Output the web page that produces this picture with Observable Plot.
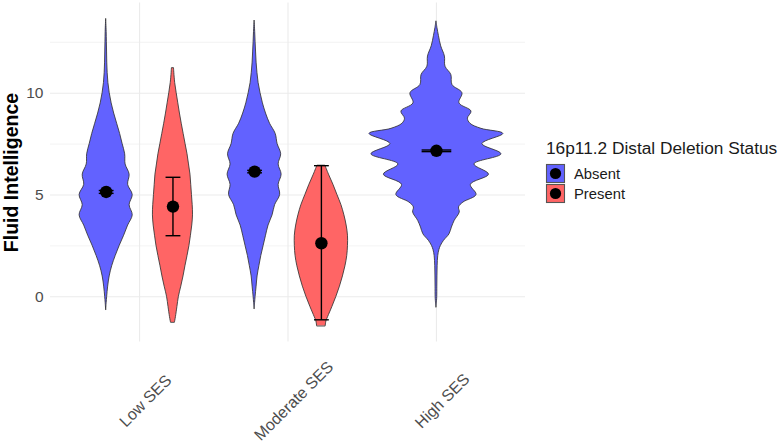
<!DOCTYPE html>
<html><head><meta charset="utf-8">
<script src="https://cdn.jsdelivr.net/npm/d3@7"></script>
<script src="https://cdn.jsdelivr.net/npm/@observablehq/plot@0.6"></script>
<style>
body{margin:0;background:#fff;}
#wrap{position:relative;width:780px;height:446px;font-family:"Liberation Sans",Arial,Helvetica,sans-serif;}
#legend{position:absolute;left:0;top:0;pointer-events:none;}
</style></head><body><div id="wrap"></div>
<script>
// ---- data ----
const categories = ["Low SES", "Moderate SES", "High SES"];
const groups = ["Absent", "Present"];
const groupColors = ["#6262ff", "#ff6565"];
const legendTitle = "16p11.2 Distal Deletion Status";
const yTitle = "Fluid Intelligence";
const yTicks = [0, 5, 10];
const yMinorTicks = [2.5, 7.5, 12.5];

// violin profiles: y values and half-widths (in category units)
const lowAbsentY = [-0.65,-0.3,0,0.5,1,1.5,2,2.5,3,3.5,4,4.5,5,5.5,6,6.5,7,7.5,8,8.5,9,9.5,10,10.5,11,11.5,12,12.5,13,13.65];
const lowAbsentW = [0,.0034,.0067,.0135,.0236,.0404,.064,.091,.121,.148,.179,.158,.179,.148,.158,.131,.128,.111,.094,.074,.054,.037,.024,.015,.010,.0074,.0061,.0047,.0034,0];
const lowPresentY = [-1.26,-1,-0.5,0,0.5,1,1.5,2,2.5,3,3.5,4,4.5,5,5.5,6,6.5,7,7.5,8,8.5,9,9.5,10,10.5,11,11.23];
const lowPresentW = [.0135,.020,.030,.040,.056,.071,.084,.098,.111,.121,.130,.135,.133,.128,.123,.118,.108,.098,.085,.072,.059,.047,.036,.025,.015,.009,.007];
const modAbsentY = [-0.6,-0.3,0,0.5,1,1.5,2,2.5,3,3.5,4,4.5,5,5.5,6,6.5,7,7.5,8,8.5,9,9.5,10,10.5,11,11.5,12,12.5,13,13.57];
const modAbsentW = [0,.0034,.0067,.0135,.020,.032,.045,.061,.077,.094,.121,.138,.172,.162,.182,.162,.179,.155,.142,.104,.077,.056,.040,.027,.019,.0135,.010,.0067,.004,0];
const modPresentY = [-1.44,-1.2,-1,-0.5,0,0.5,1,1.5,2,2.5,3,3.5,4,4.5,5,5.5,6,6.44];
const modPresentW = [.029,.034,.045,.074,.101,.125,.145,.162,.174,.179,.179,.170,.155,.135,.108,.081,.051,.027];
const highAbsentY = [-0.52,-0.2,0,0.5,1,1.5,2,2.3,2.5,2.75,3.07,3.4,3.73,4.14,4.39,4.63,5,5.5,6,6.5,7,7.5,8,8.25,8.5,8.75,9.1,9.5,10,10.4,10.9,11.3,11.8,12.3,12.8,13.2,13.53];
const highAbsentW = [0,.004,.0054,.006,.0067,.008,.012,.020,.030,.051,.088,.104,.123,.157,.152,.182,.270,.232,.354,.256,.438,.310,.451,.303,.229,.212,.236,.155,.175,.108,.100,.061,.057,.032,.017,.0067,0];

// means and error bars
const summaryCategory = ["Low SES","Low SES","Moderate SES","Moderate SES","High SES"];
const summaryGroup = ["Absent","Present","Absent","Present","Absent"];
const meanValues = [5.15, 4.43, 6.15, 2.63, 7.17];
const ciLower = [5.08, 3.00, 6.09, -1.13, 7.13];
const ciUpper = [5.22, 5.87, 6.21, 6.44, 7.21];

// ---- layout helpers (dodge like ggplot, width 0.9) ----
const groupsIn = c => summaryGroup.filter((g, i) => summaryCategory[i] === c);
function center(cat, grp) {
  const gs = groupsIn(cat), n = gs.length, k = gs.indexOf(grp);
  const share = 0.9 / n;
  return categories.indexOf(cat) + 1 - 0.45 + share * (k + 0.5);
}

const violins = [
  {cat: "Low SES", group: "Absent", y: lowAbsentY, w: lowAbsentW},
  {cat: "Low SES", group: "Present", y: lowPresentY, w: lowPresentW},
  {cat: "Moderate SES", group: "Absent", y: modAbsentY, w: modAbsentW},
  {cat: "Moderate SES", group: "Present", y: modPresentY, w: modPresentW},
  {cat: "High SES", group: "Absent", y: highAbsentY, w: highAbsentW}
];
const violinRows = violins.flatMap((v, vi) => {
  const c = center(v.cat, v.group);
  return v.y.map((yy, j) => ({id: vi, group: v.group, y: yy, x1: c - v.w[j], x2: c + v.w[j]}));
});
const summary = meanValues.map((m, i) => {
  const c = center(summaryCategory[i], summaryGroup[i]);
  const cap = 0.1 / groupsIn(summaryCategory[i]).length;
  return {x: c, xl: c - cap, xr: c + cap, mean: m, lo: ciLower[i], hi: ciUpper[i]};
});

const plot = Plot.plot({
  width: 780, height: 446,
  marginLeft: 50, marginRight: 255, marginTop: 2.5, marginBottom: 104.5,
  style: {fontFamily: '"Liberation Sans", Arial, sans-serif', background: "white", overflow: "visible"},
  x: {type: "linear", domain: [0.4, 3.6], axis: null},
  y: {domain: [-2.22, 14.43], axis: null},
  color: {domain: groups, range: groupColors},
  marks: [
    Plot.gridY(yMinorTicks, {stroke: "#ebebeb", strokeOpacity: 1, strokeWidth: 0.6}),
    Plot.gridY(yTicks, {stroke: "#ebebeb", strokeOpacity: 1, strokeWidth: 1.1}),
    Plot.gridX([1, 2, 3], {stroke: "#ebebeb", strokeOpacity: 1, strokeWidth: 1.1}),
    Plot.axisY(yTicks, {tickSize: 0, tickPadding: 7, fontSize: 15.5, fill: "#4d4d4d", label: null}),
    Plot.text(categories, {x: (d, i) => i + 1, text: d => d, frameAnchor: "bottom", dx: 6, dy: 59,
      rotate: -45, textAnchor: "middle", lineAnchor: "middle", fontSize: 16, fill: "#4d4d4d"}),
    Plot.text([yTitle], {frameAnchor: "left", text: d => d, rotate: -90, dx: -38.7, textAnchor: "middle",
      lineAnchor: "middle", fontSize: 19.5, fontWeight: "bold", fill: "black"}),
    Plot.areaX(violinRows, {y: "y", x1: "x1", x2: "x2", z: "id", fill: "group", fillOpacity: 1,
      stroke: "#333333", strokeWidth: 0.85, curve: "catmull-rom"}),
    Plot.link(summary, {x1: "x", x2: "x", y1: "lo", y2: "hi", stroke: "black", strokeWidth: 1.4}),
    Plot.link(summary, {x1: "xl", x2: "xr", y1: "lo", y2: "lo", stroke: "black", strokeWidth: 1.4}),
    Plot.link(summary, {x1: "xl", x2: "xr", y1: "hi", y2: "hi", stroke: "black", strokeWidth: 1.4}),
    Plot.dot(summary, {x: "x", y: "mean", r: 6.2, fill: "black", stroke: "none"})
  ]
});
const wrap = document.getElementById("wrap");
wrap.appendChild(plot);

// legend (right side)
const lg = d3.select(wrap).append("svg").attr("id", "legend").attr("width", 780).attr("height", 446)
  .style("font-family", '"Liberation Sans", Arial, sans-serif');
lg.append("text").attr("x", 546).attr("y", 154.3).attr("font-size", 17.3).attr("fill", "#1a1a1a").text(legendTitle);
groups.forEach((g, i) => {
  const top = 164.5 + i * 20;
  lg.append("rect").attr("x", 546.5).attr("y", top).attr("width", 18).attr("height", 18)
    .attr("fill", groupColors[i]).attr("stroke", "#555").attr("stroke-width", 1.1);
  lg.append("circle").attr("cx", 555.5).attr("cy", top + 9).attr("r", 5.6).attr("fill", "black");
  lg.append("text").attr("x", 574).attr("y", top + 14.3).attr("font-size", 14.8).attr("fill", "#1a1a1a").text(g);
});
</script></body></html>
